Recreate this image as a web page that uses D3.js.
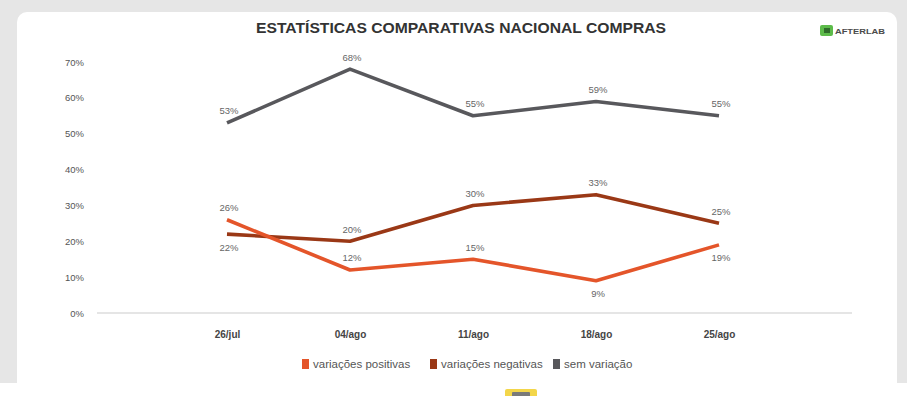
<!DOCTYPE html>
<html>
<head>
<meta charset="utf-8">
<script src="https://cdn.jsdelivr.net/npm/d3@7/dist/d3.min.js"></script>
<style>
  html, body { margin: 0; padding: 0; background: #ffffff; overflow: hidden; }
  svg { display: block; font-family: "Liberation Sans", Arial, sans-serif; }
</style>
</head>
<body>
<svg id="chart" width="907" height="396"></svg>
<script>
// Weekly purchase statistics (percent of respondents)
const categories = ["26/jul", "04/ago", "11/ago", "18/ago", "25/ago"];
const positivas = [26, 12, 15, 9, 19];
const negativas = [22, 20, 30, 33, 25];
const semVariacao = [53, 68, 55, 59, 55];
const yTicks = [0, 10, 20, 30, 40, 50, 60, 70];
const seriesNames = ["variações positivas", "variações negativas", "sem variação"];

// which side of the point each value label sits on
const sidePositivas = ["above", "above", "above", "below", "below"];
const sideNegativas = ["below", "above", "above", "above", "above"];
const sideSem = ["above", "above", "above", "above", "above"];

const colors = ["#e4552a", "#9a3816", "#58585c"];

const svg = d3.select("#chart");
const W = 907, H = 396;

// page background, card and the white strip below it
svg.append("rect").attr("width", W).attr("height", 383).attr("fill", "#e6e6e6");
svg.append("rect").attr("x", 0).attr("y", 383).attr("width", W).attr("height", 13).attr("fill", "#ffffff");
svg.append("rect").attr("x", 17).attr("y", 12).attr("width", 880).attr("height", 384)
  .attr("rx", 10).attr("fill", "#ffffff");
svg.append("rect").attr("x", 17).attr("y", 370).attr("width", 880).attr("height", 26).attr("fill", "#ffffff");

// title
svg.append("text")
  .attr("x", 461).attr("y", 33)
  .attr("text-anchor", "middle")
  .attr("font-size", 15).attr("font-weight", "bold")
  .attr("fill", "#333333")
  .attr("textLength", 410).attr("lengthAdjust", "spacingAndGlyphs")
  .text("ESTATÍSTICAS COMPARATIVAS NACIONAL COMPRAS");

// brand mark
const logo = svg.append("g").attr("transform", "translate(820,25)");
logo.append("rect").attr("x", 0).attr("y", 0).attr("width", 13).attr("height", 11).attr("rx", 2).attr("fill", "#5dbb4a");
logo.append("rect").attr("x", 4).attr("y", 3).attr("width", 6).attr("height", 5).attr("fill", "#2f6b2a");
logo.append("text").attr("x", 15).attr("y", 9)
  .attr("font-size", 7).attr("font-weight", "bold").attr("fill", "#4a4a4a")
  .attr("textLength", 50).attr("lengthAdjust", "spacingAndGlyphs")
  .text("AFTERLAB");

// scales
const x = d3.scalePoint().domain(categories).range([104, 842]).padding(1);
const y = d3.scaleLinear().domain([0, 70]).range([313, 62]);

// y axis labels
const yAxis = d3.axisLeft(y).tickValues(yTicks).tickFormat(d => d + "%").tickSize(0).tickPadding(0);
const yg = svg.append("g").attr("transform", "translate(84,0)").call(yAxis);
yg.select(".domain").remove();
yg.selectAll("text").attr("font-size", 9.5).attr("fill", "#555").attr("font-family", "Liberation Sans, Arial, sans-serif");

// baseline
svg.append("line")
  .attr("x1", 97).attr("x2", 852).attr("y1", y(0)).attr("y2", y(0))
  .attr("stroke", "#dcdcdc").attr("stroke-width", 1.5);

// x axis labels
const xAxis = d3.axisBottom(x).tickSize(0).tickPadding(0);
const xg = svg.append("g").attr("transform", "translate(0,331)").call(xAxis);
xg.select(".domain").remove();
xg.selectAll("text").attr("font-size", 10).attr("fill", "#444").attr("font-weight", "bold")
  .attr("font-family", "Liberation Sans, Arial, sans-serif");

// lines
const series = [
  { name: seriesNames[0], values: positivas, side: sidePositivas, color: colors[0] },
  { name: seriesNames[1], values: negativas, side: sideNegativas, color: colors[1] },
  { name: seriesNames[2], values: semVariacao, side: sideSem, color: colors[2] }
];

const line = d3.line()
  .x((d, i) => x(categories[i]))
  .y(d => y(d));

// grey first so the orange/red lines sit on top
[series[2], series[1], series[0]].forEach(s => {
  svg.append("path")
    .datum(s.values)
    .attr("d", line)
    .attr("fill", "none")
    .attr("stroke", s.color)
    .attr("stroke-width", 3.6)
    .attr("stroke-linejoin", "round");
});

series.forEach(s => {
  svg.append("g").selectAll("text")
    .data(s.values)
    .join("text")
    .attr("x", (d, i) => x(categories[i]) + 2)
    .attr("y", (d, i) => y(d) + (s.side[i] === "above" ? -12 : 13))
    .attr("dominant-baseline", "central")
    .attr("text-anchor", "middle")
    .attr("font-size", 9.5)
    .attr("fill", "#666")
    .text(d => d + "%");
});

// legend
const legend = svg.append("g");
const legendX = [302, 430, 553];
series.forEach((s, i) => {
  legend.append("rect")
    .attr("x", legendX[i]).attr("y", 359)
    .attr("width", 7).attr("height", 10)
    .attr("fill", s.color);
  legend.append("text")
    .attr("x", legendX[i] + 11).attr("y", 364)
    .attr("dominant-baseline", "central")
    .attr("font-size", 11.5).attr("fill", "#555")
    .text(s.name);
});

// cut-off badge of the next panel
svg.append("rect").attr("x", 505).attr("y", 389).attr("width", 32).attr("height", 12).attr("rx", 2).attr("fill", "#f3d64a");
svg.append("rect").attr("x", 512).attr("y", 392).attr("width", 18).attr("height", 8).attr("rx", 1).attr("fill", "#7a7a7a");
</script>
</body>
</html>
